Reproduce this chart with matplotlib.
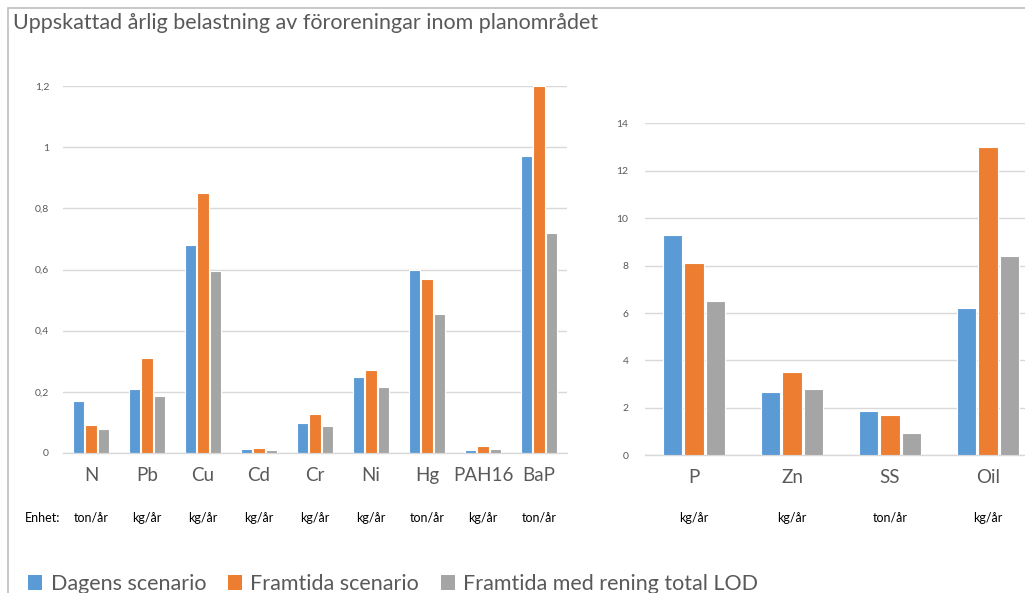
import numpy as np
import matplotlib
matplotlib.use("Agg")
import matplotlib.pyplot as plt
from matplotlib.patches import Patch, Rectangle
from matplotlib.ticker import FuncFormatter
import matplotlib.transforms as mtransforms

plt.rcParams['font.family'] = ['Lato', 'DejaVu Sans']

# vänster diagram
kat_v = ['N', 'Pb', 'Cu', 'Cd', 'Cr', 'Ni', 'Hg', 'PAH16', 'BaP']
enhet_v = ['ton/år', 'kg/år', 'kg/år', 'kg/år', 'kg/år', 'kg/år', 'ton/år', 'kg/år', 'ton/år']
dagens_v = [0.17, 0.21, 0.68, 0.013, 0.098, 0.249, 0.60, 0.010, 0.97]
framtida_v = [0.091, 0.31, 0.85, 0.016, 0.128, 0.27, 0.57, 0.022, 1.2]
rening_v = [0.077, 0.185, 0.595, 0.010, 0.089, 0.216, 0.455, 0.013, 0.72]

# höger diagram
kat_h = ['P', 'Zn', 'SS', 'Oil']
enhet_h = ['kg/år', 'kg/år', 'ton/år', 'kg/år']
dagens_h = [9.3, 2.67, 1.88, 6.2]
framtida_h = [8.1, 3.5, 1.7, 13.0]
rening_h = [6.5, 2.78, 0.93, 8.42]

serier = ['Dagens scenario', 'Framtida scenario', 'Framtida med rening total LOD']
farger = ['#5B9BD5', '#ED7D31', '#A5A5A5']
grid_c = '#D9D9D9'
text_c = '#595959'

fig = plt.figure(figsize=(10.25, 5.93), dpi=100)

# ram runt diagramområdet
fig.patches.append(Rectangle((8 / 1025, -0.1), 1.2, (593 - 8) / 593 + 0.1,
                             transform=fig.transFigure, fill=False,
                             edgecolor='#BFBFBF', linewidth=1.2))

fig.text(13 / 1025, 1 - 23 / 593, 'Uppskattad årlig belastning av föroreningar inom planområdet',
         fontsize=15.5, color=text_c, va='center', ha='left')


def komma(v, pos):
    s = ('%g' % v).replace('.', ',')
    return s


def rita(ax, kat, enhet, data, ymax, ystep, bw, ypad):
    x = np.arange(len(kat))
    offs = [-0.22, 0.0, 0.22]
    for d, f, o in zip(data, farger, offs):
        ax.bar(x + o, d, width=bw, color=f, edgecolor='white', linewidth=0.8, zorder=3)
    ax.set_xlim(-0.5, len(kat) - 0.5)
    ax.set_ylim(0, ymax)
    ax.set_yticks(np.arange(0, ymax + ystep / 2, ystep))
    ax.yaxis.set_major_formatter(FuncFormatter(komma))
    ax.grid(axis='y', color=grid_c, linewidth=1, zorder=0)
    for s in ['top', 'right', 'left']:
        ax.spines[s].set_visible(False)
    ax.spines['bottom'].set_color(grid_c)
    ax.spines['bottom'].set_linewidth(1)
    ax.tick_params(axis='y', length=0, pad=ypad, labelsize=7.5, labelcolor=text_c)
    ax.tick_params(axis='x', length=0, pad=10, labelsize=13.5, labelcolor=text_c)
    ax.set_xticks(x)
    ax.set_xticklabels(kat)
    trans = mtransforms.blended_transform_factory(ax.transData, fig.transFigure)
    for xi, e in zip(x, enhet):
        ax.text(xi, 1 - 518 / 593, e, transform=trans, ha='center', va='center',
                fontsize=9, color='black')


ax1 = fig.add_axes([63 / 1025, (593 - 453) / 593, 504 / 1025, 367 / 593])
rita(ax1, kat_v, enhet_v, [dagens_v, framtida_v, rening_v], 1.2, 0.2, 0.2, 10)
fig.text(43 / 1025, 1 - 518 / 593, 'Enhet:', ha='center', va='center', fontsize=9, color='black')

ax2 = fig.add_axes([645 / 1025, (593 - 455.3) / 593, 392 / 1025, 332 / 593])
rita(ax2, kat_h, enhet_h, [dagens_h, framtida_h, rening_h], 14, 2, 0.2, 12)

handles = [Patch(facecolor=f, edgecolor='none') for f in farger]
fig.legend(handles, serier, loc='center left', bbox_to_anchor=(28 / 1025, 9 / 593),
           ncol=3, frameon=False, fontsize=15.5, labelcolor=text_c,
           handlelength=0.65, handleheight=0.65, handletextpad=0.4, columnspacing=1.0,
           borderaxespad=0, borderpad=0)

fig.savefig('out.png', dpi=100)
